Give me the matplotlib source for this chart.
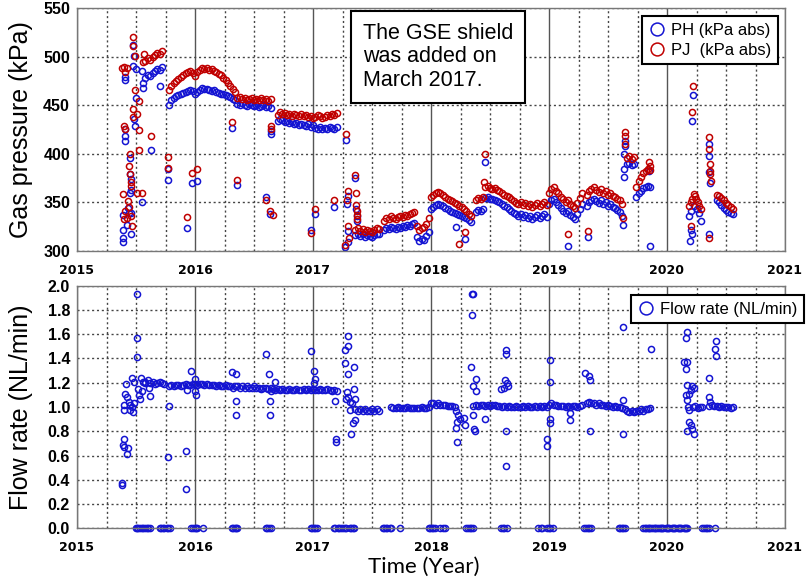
import numpy as np
import matplotlib.pyplot as plt
from matplotlib.ticker import MultipleLocator, FormatStrFormatter

# 采样间隔 (年), 连续段按此间隔排列
STEP = 0.02

# ---- PH (蓝) 连续段: 起始年份 + 逐点数值 (kPa) ----
PH_SEG_START = [2015.58, 2015.78, 2016.36, 2016.70, 2017.36, 2017.60, 2017.88,
                2018.00, 2018.38, 2018.46, 2019.00, 2019.32, 2019.66, 2019.74, 2020.42]
PH_SEG_VALUES = [
    [478, 481, 480, 483, 485, 487, 486, 489],
    [450, 455, 457, 459, 461, 462, 463, 464, 465, 466, 465, 462, 464, 466, 468,
     467, 467, 466, 465, 466, 464, 463, 462, 462, 461, 459, 458, 456, 455],
    [451, 450, 452, 450, 449, 451, 450, 449, 450, 448, 449, 450, 448, 449, 447],
    [434, 436, 435, 433, 434, 432, 433, 431, 432, 430, 431, 430, 429, 431, 428,
     430, 427, 426, 428, 425, 427, 426, 428, 427, 426, 428],
    [316, 318, 315, 317, 314, 316, 315, 314, 316, 317, 318],
    [322, 324, 323, 325, 324, 323, 325, 324, 326, 325, 327, 326, 328, 329],
    [314, 310, 312, 311, 315, 320],
    [343, 345, 347, 348, 347, 346, 344, 343, 341, 340, 339, 338, 337, 336, 335,
     334, 332, 330],
    [340, 342, 341, 343],
    [355, 356, 354, 353, 352, 351, 350, 348, 346, 345, 343, 341, 339, 338, 336,
     338, 335, 337, 334, 336, 333, 335, 337, 334, 336, 338, 335],
    [348, 352, 353, 350, 347, 344, 341, 339, 341, 337, 335, 333, 338, 343, 348],
    [346, 350, 352, 354, 351, 349, 352, 348, 350, 346, 348, 345, 344, 342, 340, 336],
    [389, 391, 388, 390],
    [356, 360, 362, 365, 366, 367, 366],
    [352, 350, 347, 344, 342, 340, 339, 338],
]
# PH 离散点
PH_OUT_T = [2015.477, 2015.483, 2015.403, 2015.403, 2015.477, 2015.497, 2015.548,
            2015.563, 2015.557, 2015.707, 2015.497, 2015.483, 2015.489, 2015.403,
            2015.410, 2015.403, 2015.625, 2015.449, 2015.449, 2015.455, 2015.455,
            2015.449, 2015.554, 2015.430, 2015.440, 2015.389, 2015.460, 2015.426,
            2015.460, 2015.392, 2015.392, 2015.386, 2015.773, 2015.773, 2015.974,
            2016.014, 2015.930, 2016.313, 2016.358, 2016.600, 2016.635, 2016.640,
            2016.642, 2016.983, 2017.020, 2017.180, 2017.280, 2017.290, 2017.300,
            2017.360, 2017.365, 2017.370, 2017.372, 2017.298, 2017.296, 2017.275,
            2018.215, 2018.286, 2018.460, 2019.160, 2019.330, 2019.630, 2019.640,
            2019.642, 2019.638, 2019.636, 2019.634, 2019.850, 2019.860, 2020.220,
            2020.215, 2020.190, 2020.195, 2020.200, 2020.230, 2020.250, 2020.270,
            2020.285, 2020.205, 2020.210, 2020.355, 2020.357, 2020.360, 2020.365,
            2020.352]
PH_OUT_V = [512, 501, 479, 476, 490, 487, 485, 473, 468, 470, 457, 436, 429, 425,
            418, 413, 404, 396, 379, 374, 363, 360, 350, 344, 339, 337, 339, 327,
            317, 322, 313, 309, 384, 373, 370, 372, 324, 427, 368, 356, 338, 420,
            423, 322, 338, 345, 414, 348, 357, 375, 343, 336, 331, 321, 309, 304,
            325, 312, 392, 305, 314, 327, 413, 408, 400, 384, 376, 382, 305, 461,
            434, 336, 310, 341, 346, 343, 339, 331, 322, 317, 410, 398, 381, 370,
            317]

# ---- PJ (红) 连续段 ----
PJ_SEG_START = PH_SEG_START
PJ_SEG_VALUES = [
    [495, 499, 497, 500, 502, 504, 503, 506],
    [466, 470, 473, 475, 477, 479, 481, 483, 484, 485, 483, 480, 484, 486, 488,
     487, 488, 486, 487, 485, 484, 482, 481, 478, 476, 473, 470, 467, 464],
    [457, 458, 456, 457, 455, 456, 457, 455, 456, 455, 457, 455, 456, 454, 456],
    [440, 443, 441, 442, 440, 441, 439, 441, 440, 439, 441, 439, 440, 438, 439,
     437, 438, 440, 439, 437, 438, 440, 439, 441, 440, 442],
    [322, 324, 321, 323, 320, 322, 321, 320, 322, 324, 323],
    [331, 334, 333, 336, 334, 333, 335, 336, 335, 337, 336, 338, 339, 340],
    [326, 322, 324, 325, 328, 334],
    [356, 358, 360, 361, 360, 358, 356, 354, 352, 351, 349, 348, 346, 345, 343,
     341, 338, 336],
    [352, 355, 353, 356],
    [366, 367, 365, 364, 365, 363, 362, 360, 358, 357, 356, 353, 351, 349, 348,
     350, 347, 349, 346, 348, 345, 347, 349, 346, 348, 350, 347],
    [360, 364, 366, 362, 360, 356, 353, 350, 352, 348, 346, 344, 349, 355, 360],
    [358, 362, 364, 366, 363, 361, 364, 360, 362, 358, 360, 357, 356, 354, 352, 348],
    [396, 398, 395, 397],
    [366, 372, 376, 380, 382, 384, 383],
    [358, 357, 355, 352, 349, 347, 345, 343],
]
# PJ 离散点
PJ_OUT_T = [2015.477, 2015.474, 2015.568, 2015.489, 2015.563, 2015.398, 2015.384,
            2015.420, 2015.406, 2015.490, 2015.526, 2015.474, 2015.506, 2015.477,
            2015.398, 2015.410, 2015.526, 2015.630, 2015.526, 2015.449, 2015.443,
            2015.449, 2015.455, 2015.460, 2015.390, 2015.511, 2015.554, 2015.435,
            2015.440, 2015.410, 2015.398, 2015.426, 2015.455, 2015.470, 2015.773,
            2015.773, 2015.974, 2016.014, 2015.930, 2016.313, 2016.355, 2016.600,
            2016.635, 2016.660, 2016.640, 2016.642, 2016.983, 2017.020, 2017.180,
            2017.280, 2017.290, 2017.298, 2017.360, 2017.362, 2017.368, 2017.370,
            2017.372, 2017.373, 2017.300, 2017.302, 2017.275, 2018.240, 2018.286,
            2018.460, 2018.450, 2019.160, 2019.330, 2019.630, 2019.640, 2019.642,
            2019.644, 2019.850, 2019.852, 2020.220, 2020.215, 2020.190, 2020.200,
            2020.210, 2020.225, 2020.235, 2020.245, 2020.260, 2020.275, 2020.290,
            2020.205, 2020.355, 2020.357, 2020.362, 2020.366, 2020.368, 2020.370,
            2020.352]
PJ_OUT_V = [520, 511, 503, 501, 494, 489, 488, 488, 484, 466, 454, 446, 441, 438,
            429, 425, 424, 418, 404, 400, 387, 379, 371, 367, 359, 360, 360, 351,
            345, 341, 333, 334, 336, 326, 397, 385, 380, 384, 335, 433, 373, 352,
            341, 337, 426, 429, 319, 343, 352, 420, 352, 362, 378, 360, 347, 341,
            337, 333, 326, 313, 306, 307, 320, 400, 371, 317, 321, 334, 422, 418,
            410, 392, 387, 470, 443, 346, 350, 353, 359, 357, 353, 350, 346, 343,
            326, 417, 405, 389, 382, 379, 372, 313]

# ---- 流量 (NL/min) 连续段 ----
FLOW_SEG_START = [2015.56, 2015.78, 2016.36, 2016.66, 2017.36, 2017.66, 2018.00,
                  2018.36, 2019.00, 2019.32, 2019.64, 2020.22, 2020.36]
FLOW_SEG_VALUES = [
    [1.21, 1.20, 1.22, 1.20, 1.21, 1.19, 1.20, 1.21, 1.20, 1.19],
    [1.17, 1.18, 1.17, 1.18, 1.18, 1.17, 1.18, 1.19, 1.18, 1.18, 1.19, 1.19, 1.18,
     1.19, 1.19, 1.18, 1.19, 1.18, 1.18, 1.18, 1.17, 1.18, 1.17, 1.17, 1.18, 1.17,
     1.17, 1.16, 1.17],
    [1.17, 1.16, 1.17, 1.16, 1.17, 1.16, 1.16, 1.17, 1.16, 1.16, 1.15, 1.16, 1.16,
     1.15, 1.16],
    [1.15, 1.14, 1.15, 1.14, 1.15, 1.14, 1.14, 1.15, 1.14, 1.14, 1.15, 1.14, 1.14,
     1.15, 1.14, 1.15, 1.14, 1.15, 1.14, 1.14, 1.15, 1.14, 1.14, 1.15, 1.14, 1.13,
     1.14, 1.13],
    [0.98, 0.97, 0.98, 0.97, 0.98, 0.97, 0.97, 0.98, 0.97, 0.98, 0.97],
    [1.00, 0.99, 0.99, 1.00, 0.99, 0.99, 0.99, 1.00, 0.99, 0.99, 0.99, 0.99, 0.99,
     1.00, 0.99, 0.99, 1.00],
    [1.03, 1.03, 1.02, 1.03, 1.02, 1.02, 1.02, 1.01, 1.01, 1.01, 1.00],
    [1.01, 1.02, 1.01, 1.02, 1.02, 1.01, 1.02, 1.01, 1.02, 1.02, 1.01, 1.01, 1.00,
     1.01, 1.00, 1.01, 1.00, 1.00, 1.01, 1.00, 1.00, 1.01, 1.00, 1.01, 1.00, 1.00,
     1.01, 1.00, 1.01, 1.00, 1.01, 1.00],
    [1.02, 1.03, 1.02, 1.02, 1.01, 1.01, 1.01, 1.00, 1.01, 1.00, 1.01, 1.01, 1.00,
     1.01, 1.02],
    [1.03, 1.04, 1.03, 1.03, 1.02, 1.03, 1.02, 1.02, 1.01, 1.02, 1.01, 1.00, 1.01,
     1.00, 1.00, 0.99],
    [0.98, 0.97, 0.96, 0.97, 0.96, 0.97, 0.97, 0.98, 0.97, 0.98, 0.98, 0.99],
    [1.00, 1.01, 0.99, 1.00, 1.00],
    [1.01, 1.02, 1.01, 1.01, 1.00, 1.01, 1.00, 1.00, 1.00, 0.99, 1.00],
]
# 流量离散点
FLOW_OUT_T = [2015.380, 2015.382, 2015.395, 2015.390, 2015.400, 2015.420, 2015.430,
              2015.395, 2015.396, 2015.404, 2015.412, 2015.421, 2015.437, 2015.446,
              2015.452, 2015.466, 2015.474, 2015.480, 2015.466, 2015.486, 2015.510,
              2015.510, 2015.510, 2015.514, 2015.523, 2015.537, 2015.551, 2015.540,
              2015.579, 2015.607, 2015.621, 2015.777, 2015.768, 2015.927, 2015.927,
              2015.932, 2015.969, 2016.003, 2016.003, 2016.011, 2016.314, 2016.347,
              2016.350, 2016.350, 2016.605, 2016.630, 2016.633, 2016.638, 2016.644,
              2016.675, 2016.986, 2017.011, 2017.020, 2017.006, 2017.186, 2017.192,
              2017.192, 2017.274, 2017.294, 2017.297, 2017.274, 2017.297, 2017.345,
              2017.350, 2017.288, 2017.294, 2017.280, 2017.316, 2017.311, 2017.322,
              2017.339, 2017.356, 2017.356, 2017.330,
              2018.345, 2018.354, 2018.345, 2018.340, 2018.382, 2018.360, 2018.382,
              2018.360, 2018.365, 2018.374, 2018.212, 2018.232, 2018.218, 2018.212,
              2018.224, 2018.246, 2018.283, 2018.289, 2018.459, 2018.595, 2018.615,
              2018.629, 2018.643, 2018.649, 2018.637, 2018.637, 2018.637, 2018.637,
              2019.011, 2019.011, 2019.011, 2019.011, 2018.983, 2018.983, 2019.176,
              2019.181, 2019.309, 2019.337, 2019.351, 2019.351, 2019.629, 2019.629,
              2019.629, 2019.861, 2020.159, 2020.173, 2020.144, 2020.167, 2020.159,
              2020.167, 2020.159, 2020.187, 2020.201, 2020.215, 2020.229, 2020.173,
              2020.181, 2020.187, 2020.173, 2020.187, 2020.201, 2020.215, 2020.229,
              2020.357, 2020.357, 2020.365, 2020.414, 2020.405, 2020.414]
FLOW_OUT_V = [0.36, 0.37, 0.74, 0.69, 0.67, 0.61, 0.66, 0.975, 1.02, 1.11, 1.19,
              1.085, 1.044, 0.975, 1.016, 1.00, 0.96, 1.03, 1.24, 1.21, 1.93, 1.57,
              1.41, 1.15, 1.10, 1.07, 1.13, 1.24, 1.21, 1.16, 1.09, 1.01, 0.59, 0.64,
              0.32, 1.14, 1.30, 1.23, 1.13, 1.10, 1.285, 1.27, 1.05, 0.93, 1.44, 1.27,
              1.05, 0.93, 1.135, 1.21, 1.46, 1.30, 1.23, 1.195, 1.05, 0.74, 0.71,
              1.47, 1.50, 1.585, 1.365, 1.27, 1.33, 1.15, 1.12, 1.085, 1.07, 1.045,
              0.975, 0.78, 0.865, 0.89, 1.07, 1.03,
              1.93, 1.93, 1.76, 1.33, 1.23, 1.17, 1.13, 0.93, 0.82, 0.80, 0.97, 0.93,
              0.88, 0.83, 0.71, 0.90, 0.91, 0.85, 0.90, 1.15, 1.155, 1.22, 1.20, 1.17,
              1.47, 1.44, 0.805, 0.51, 1.39, 1.21, 0.90, 0.865, 0.74, 0.68, 0.95,
              0.89, 1.28, 1.255, 1.22, 0.80, 1.66, 1.06, 0.78, 1.48, 1.57, 1.62,
              1.375, 1.375, 1.31, 1.18, 1.10, 1.11, 1.14, 1.17, 1.16, 1.06, 1.00,
              0.975, 0.80, 0.88, 0.85, 0.82, 0.775, 1.24, 1.085, 1.045, 1.54, 1.475,
              1.42]
# 流量为 0 的时刻
FLOW_ZERO_T = [2015.50, 2015.51, 2015.52, 2015.53, 2015.55, 2015.56, 2015.58, 2015.59,
               2015.60, 2015.62, 2015.70, 2015.71, 2015.73, 2015.74, 2015.76, 2015.77,
               2015.79, 2015.97, 2015.98, 2016.00, 2016.01, 2016.02, 2016.07, 2016.31,
               2016.32, 2016.34, 2016.35, 2016.36, 2016.60, 2016.61, 2016.63, 2016.64,
               2016.98, 2016.99, 2017.01, 2017.02, 2017.03, 2017.18, 2017.19, 2017.21,
               2017.22, 2017.24, 2017.25, 2017.27, 2017.28, 2017.31, 2017.32, 2017.34,
               2017.35, 2017.59, 2017.60, 2017.62, 2017.63, 2017.65, 2017.66, 2017.735,
               2017.98, 2017.99, 2018.01, 2018.02, 2018.03, 2018.08, 2018.10, 2018.12,
               2018.30, 2018.31, 2018.33, 2018.34, 2018.36, 2018.595, 2018.61, 2018.62,
               2018.64, 2018.91, 2018.93, 2018.94, 2018.98, 2019.00, 2019.01, 2019.03,
               2019.30, 2019.31, 2019.33, 2019.34, 2019.36, 2019.59, 2019.60, 2019.62,
               2019.63, 2019.64, 2019.80, 2019.81, 2019.82, 2019.84, 2019.85, 2019.86,
               2019.87, 2019.89, 2019.90, 2019.91, 2019.92, 2019.94, 2019.95, 2019.96,
               2019.97, 2019.99, 2020.00, 2020.01, 2020.02, 2020.04, 2020.05, 2020.06,
               2020.07, 2020.09, 2020.10, 2020.11, 2020.12, 2020.14, 2020.15, 2020.16,
               2020.17, 2020.30, 2020.31, 2020.33, 2020.34, 2020.36, 2020.405]

BLUE = '#1414d2'
RED = '#c00000'


def collect(starts, values, out_t, out_v):
    t = []
    v = []
    for s, vals in zip(starts, values):
        t.extend(s + STEP * np.arange(len(vals)))
        v.extend(vals)
    t.extend(out_t)
    v.extend(out_v)
    return np.array(t), np.array(v)


def style_axes(ax):
    ax.set_xlim(2015, 2021)
    ax.xaxis.set_major_locator(MultipleLocator(1))
    ax.xaxis.set_minor_locator(MultipleLocator(0.25))
    ax.grid(which='major', axis='x', color='#555555', lw=1.0, ls='-')
    ax.grid(which='minor', axis='x', color='#444444', lw=1.0, ls=(0, (1.5, 2)))
    ax.grid(which='major', axis='y', color='#444444', lw=1.0, ls=(0, (1.5, 2)))
    ax.set_axisbelow(True)
    ax.tick_params(which='both', length=0)
    ax.tick_params(axis='x', pad=9)
    ax.tick_params(axis='y', pad=5)
    for sp in ax.spines.values():
        sp.set_color('#777777')
        sp.set_linewidth(1.0)
    for lab in ax.get_xticklabels():
        lab.set_fontfamily('DejaVu Sans')
        lab.set_fontweight('bold')
        lab.set_fontsize(9)
    for lab in ax.get_yticklabels():
        lab.set_fontfamily('Liberation Sans')
        lab.set_fontweight('bold')
        lab.set_fontsize(11.5)


ph_t, ph_v = collect(PH_SEG_START, PH_SEG_VALUES, PH_OUT_T, PH_OUT_V)
pj_t, pj_v = collect(PJ_SEG_START, PJ_SEG_VALUES, PJ_OUT_T, PJ_OUT_V)
fl_t, fl_v = collect(FLOW_SEG_START, FLOW_SEG_VALUES, FLOW_OUT_T, FLOW_OUT_V)

fig = plt.figure(figsize=(8.07, 5.80), dpi=100)
ax1 = fig.add_axes([77 / 807, 1 - 251 / 580, 708 / 807, 243 / 580])
ax2 = fig.add_axes([77 / 807, 1 - 528.3 / 580, 708 / 807, 242.6 / 580])

mk = dict(ls='none', marker='o', mfc='none', ms=4.4, mew=1.1)

# 上图: 气体压力
ax1.plot(ph_t, ph_v, mec=BLUE, label='PH (kPa abs)', **mk)
ax1.plot(pj_t, pj_v, mec=RED, label='PJ  (kPa abs)', **mk)
ax1.set_ylim(300, 550)
ax1.yaxis.set_major_locator(MultipleLocator(50))
style_axes(ax1)
ax1.set_ylabel('Gas pressure (kPa)', fontsize=18, family='Liberation Sans')
ax1.yaxis.set_label_coords(-0.062, 0.5)
leg1 = ax1.legend(loc='upper right', bbox_to_anchor=(0.990, 0.967), fancybox=False,
                  edgecolor='black', framealpha=1, markerscale=2.1, handlelength=1.0,
                  handletextpad=0.35, borderpad=0.4, labelspacing=0.3,
                  borderaxespad=0, prop={'family': 'Liberation Sans', 'size': 12})
leg1.get_frame().set_linewidth(1.5)
ax1.text(363 / 807, 1 - 57 / 580, 'The GSE shield\nwas added on\nMarch 2017.',
         transform=fig.transFigure, ha='left', va='center', fontsize=15.5,
         family='Liberation Sans', linespacing=1.15,
         bbox=dict(boxstyle='square,pad=0.55', fc='white', ec='black', lw=1.5))

# 下图: 流量
ax2.plot(fl_t, fl_v, mec=BLUE, label='Flow rate (NL/min)', **mk)
ax2.plot(FLOW_ZERO_T, np.zeros(len(FLOW_ZERO_T)), mec=BLUE, clip_on=False, **mk)
ax2.set_ylim(0, 2.0)
ax2.yaxis.set_major_locator(MultipleLocator(0.2))
ax2.yaxis.set_major_formatter(FormatStrFormatter('%.1f'))
style_axes(ax2)
ax2.set_ylabel('Flow rate (NL/min)', fontsize=18, family='Liberation Sans')
ax2.yaxis.set_label_coords(-0.062, 0.5)
ax2.set_xlabel('Time (Year)', fontsize=16, family='Lato')
ax2.xaxis.set_label_coords(0.49, -0.118)
leg2 = ax2.legend(loc='upper left', bbox_to_anchor=(0.7825, 0.962), fancybox=False,
                  edgecolor='black', framealpha=1, markerscale=2.1, handlelength=1.0,
                  handletextpad=0.35, borderpad=0.4, borderaxespad=0,
                  prop={'family': 'Liberation Sans', 'size': 12})
leg2.get_frame().set_linewidth(1.5)

fig.savefig('out.png', dpi=100)
